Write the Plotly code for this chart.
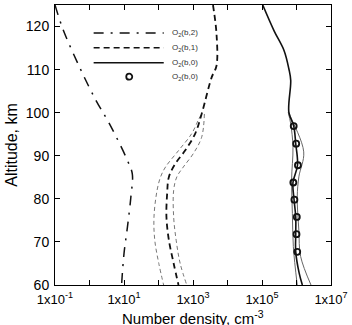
import plotly.graph_objects as go

# O2(b,2) model, dash-dot
alt_b2 = [125, 119.4, 110.5, 102.8, 97.4, 88.9, 85.8, 80.4, 73.5, 67.3, 60]
n_b2 = [0.1, 0.17, 0.52, 1.55, 3.8, 12.6, 17.4, 15.8, 12.6, 10.0, 8.5]

# O2(b,1) model, dashed
alt_b1 = [125, 118.3, 110.9, 108.2, 99.7, 95.1, 91.2, 88.2, 85.1, 81.2, 75.8, 70.4, 65.0, 60]
n_b1 = [3800, 4800, 4800, 3470, 1780, 1150, 590, 310, 200, 178, 170, 200, 275, 380]
alt_b1_lo = [99.5, 98.2, 95.1, 91.2, 87.4, 85.1, 82, 75.8, 70.4, 65, 60]
n_b1_lo = [1700, 1410, 910, 380, 160, 115, 91, 74, 78, 102, 141]
alt_b1_hi = [99.7, 94.3, 90.5, 87.4, 85.1, 82, 75.8, 70.4, 65, 60]
n_b1_hi = [2140, 1780, 1020, 525, 340, 275, 275, 325, 425, 660]

# O2(b,0) model, solid
alt_b0 = [125, 119, 114.4, 110.2, 107.5, 100.1, 96.9, 92.8, 87.8, 83.8, 79.8, 75.8, 71.8, 67.7, 62.7, 60]
n_b0 = [1.05e5, 2.24e5, 4.37e5, 6.0e5, 6.8e5, 6.0e5, 8.3e5, 9.5e5, 1.07e6, 7.9e5, 8.5e5, 9.5e5, 9.5e5, 9.5e5, 1.2e6, 1.48e6]
alt_b0_lo = [100.1, 97.4, 92.0, 84.3, 76.6, 68.9, 60]
n_b0_lo = [5.75e5, 6.8e5, 7.9e5, 7.2e5, 7.6e5, 8.1e5, 1.05e6]
alt_b0_hi = [100.1, 99.0, 90.9, 85.1, 80.4, 72.7, 66.6, 60]
n_b0_hi = [6.0e5, 6.8e5, 1.62e6, 1.17e6, 1.05e6, 1.17e6, 1.32e6, 2.63e6]

# O2(b,0) measurements, circles
alt_obs = [96.9, 92.8, 87.8, 83.8, 79.8, 75.8, 71.8, 67.7]
n_obs = [8.3e5, 9.8e5, 1.10e6, 8.1e5, 8.7e5, 1.02e6, 1.0e6, 1.05e6]

x_tickvals = [1e-1, 1e1, 1e3, 1e5, 1e7]
x_ticktext = ["1x10<sup>-1</sup>", "1x10<sup>1</sup>", "1x10<sup>3</sup>", "1x10<sup>5</sup>", "1x10<sup>7</sup>"]
x_minorvals = [1e0, 1e2, 1e4, 1e6]
y_tickvals = [60, 70, 80, 90, 100, 110, 120]

legend_labels = ["O<sub>2</sub>(b,2)", "O<sub>2</sub>(b,1)", "O<sub>2</sub>(b,0)", "O<sub>2</sub>(b,0)"]

DASHDOT = "10px,7px,2px,7px"
fig = go.Figure()
fig.add_trace(go.Scatter(x=n_b2, y=alt_b2, mode="lines", line=dict(color="#111", width=1.5, dash=DASHDOT, shape="spline")))
fig.add_trace(go.Scatter(x=n_b1_lo, y=alt_b1_lo, mode="lines", line=dict(color="#777", width=1, dash="4px,3px", shape="spline")))
fig.add_trace(go.Scatter(x=n_b1_hi, y=alt_b1_hi, mode="lines", line=dict(color="#777", width=1, dash="4px,3px", shape="spline")))
fig.add_trace(go.Scatter(x=n_b1, y=alt_b1, mode="lines", line=dict(color="#111", width=1.8, dash="6px,4px", shape="spline")))
fig.add_trace(go.Scatter(x=n_b0_lo, y=alt_b0_lo, mode="lines", line=dict(color="#666", width=1, shape="spline")))
fig.add_trace(go.Scatter(x=n_b0_hi, y=alt_b0_hi, mode="lines", line=dict(color="#666", width=1, shape="spline")))
fig.add_trace(go.Scatter(x=n_b0, y=alt_b0, mode="lines", line=dict(color="#111", width=1.6, shape="spline")))
fig.add_trace(go.Scatter(x=n_obs, y=alt_obs, mode="markers",
                         marker=dict(symbol="circle-open", size=6, color="#111", line=dict(width=1.8, color="#111"))))

# legend drawn manually (long sample lines as in the original)
rows = [0.900, 0.847, 0.794, 0.744]
dashes = [DASHDOT, "6px,4px", "solid"]
for i, d in enumerate(dashes):
    fig.add_shape(type="line", xref="paper", yref="paper", x0=0.14, x1=0.394, y0=rows[i], y1=rows[i],
                  line=dict(color="#111", width=1.5, dash=d))
fig.add_shape(type="circle", xref="paper", yref="paper", xsizemode="pixel", ysizemode="pixel",
              xanchor=0.269, yanchor=rows[3], x0=-3, x1=3, y0=-3, y1=3, line=dict(color="#111", width=1.8))
for i, lab in enumerate(legend_labels):
    fig.add_annotation(xref="paper", yref="paper", x=0.418, y=rows[i], text=lab, showarrow=False,
                       xanchor="left", yanchor="middle", font=dict(size=8, color="#333"))

# x-axis title as annotation placed just below the tick labels
fig.add_annotation(xref="paper", yref="paper", x=0.5, y=0, yshift=-44, xanchor="center", yanchor="bottom",
                   text="Number density, cm<sup>-3</sup>", showarrow=False,
                   font=dict(size=15, color="black", family="Liberation Sans, Arial"))

axis_common = dict(showline=True, linecolor="black", linewidth=1, mirror="allticks", ticks="inside",
                   ticklen=5, tickcolor="black", showgrid=False, zeroline=False)
fig.update_xaxes(type="log", range=[-1, 7], tickvals=x_tickvals, ticktext=x_ticktext,
                 minor=dict(tickvals=x_minorvals, ticks="inside", ticklen=5, tickcolor="black", showgrid=False),
                 ticklabelstandoff=2, tickfont=dict(size=13, color="black", family="Liberation Sans, Arial"),
                 **axis_common)
fig.update_yaxes(range=[60, 125], tickvals=y_tickvals, ticklabelstandoff=2,
                 tickfont=dict(size=14, color="black", family="Liberation Sans, Arial"),
                 title=dict(text="Altitude, km", font=dict(size=16, color="black"), standoff=4),
                 **axis_common)
fig.update_layout(width=352, height=325, margin=dict(l=55, r=18, t=4, b=40),
                  showlegend=False, plot_bgcolor="white", paper_bgcolor="white",
                  font=dict(family="Liberation Sans, Arial", color="black"))
fig.write_html("out.html")
